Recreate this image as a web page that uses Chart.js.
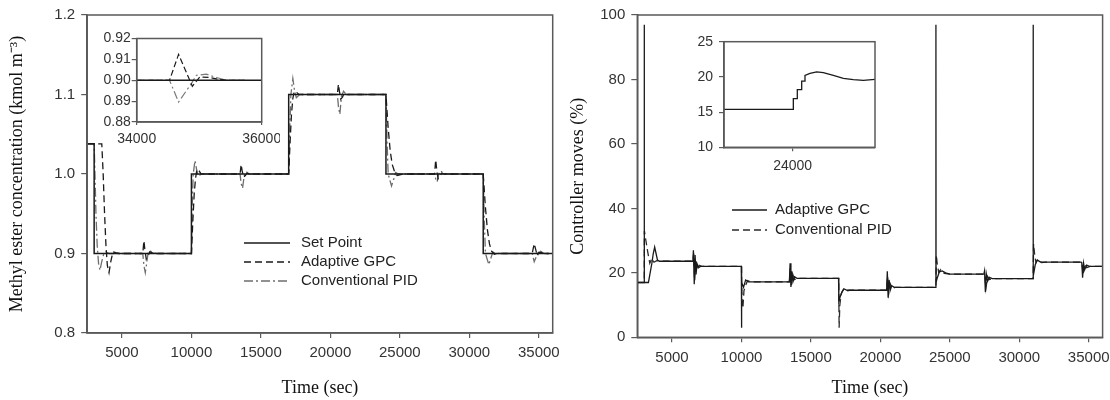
<!DOCTYPE html>
<html><head><meta charset="utf-8">
<script src="https://cdn.jsdelivr.net/npm/chart.js@4.4.1/dist/chart.umd.min.js"></script>
<style>
html,body{margin:0;padding:0;background:#fff;}
#wrap{position:relative;width:1110px;height:400px;overflow:hidden;background:#fff;}
canvas{position:absolute;}
</style></head><body>
<div id="wrap">
<canvas id="leftMain" width="560" height="400" style="left:0;top:0"></canvas>
<canvas id="rightMain" width="555" height="400" style="left:555px;top:0"></canvas>
<canvas id="leftInset" width="200" height="130" style="left:80px;top:25px"></canvas>
<canvas id="rightInset" width="240" height="160" style="left:660px;top:25px"></canvas>
</div>
<script>
// ---------------- DATA ----------------
// Time axis ticks
const timeTicks = [5000, 10000, 15000, 20000, 25000, 30000, 35000];
const concTicks = [0.8, 0.9, 1.0, 1.1, 1.2];
const moveTicks = [0, 20, 40, 60, 80, 100];
const concInsetTimeTicks = [34000, 36000];
const concInsetTicks = [0.88, 0.89, 0.90, 0.91, 0.92];
const moveInsetTimeTicks = [24000];
const moveInsetTicks = [10, 15, 20, 25];

// Left panel: methyl ester concentration
const setPointT = [2500, 3000, 3000, 10000, 10000, 17000, 17000, 24000, 24000, 31000, 31000, 36000];
const setPointC = [1.038, 1.038, 0.9, 0.9, 1.0, 1.0, 1.1, 1.1, 1.0, 1.0, 0.9, 0.9];

const gpcT = [2500, 3550, 3650, 3750, 3850, 3950, 4070, 4200, 4350, 4550, 4800,
  6500, 6580, 6650, 6750, 6880, 7000, 7150, 7400,
  10000, 10100, 10200, 10300, 10400, 10550, 10700, 10900,
  13500, 13580, 13650, 13750, 13880, 14000, 14200,
  17000, 17100, 17200, 17300, 17400, 17550, 17750, 18000,
  20500, 20580, 20650, 20750, 20880, 21000, 21200,
  24000, 24150, 24300, 24450, 24600, 24800, 25000, 25300,
  27500, 27580, 27650, 27750, 27880, 28000, 28200,
  31000, 31150, 31300, 31450, 31600, 31800, 32000, 32300,
  34525, 34670, 34890, 35010, 35170, 35330, 35500, 35730];
const gpcC = [1.038, 1.038, 1.0, 0.95, 0.91, 0.885, 0.876, 0.89, 0.902, 0.901, 0.9,
  0.9, 0.916, 0.905, 0.893, 0.897, 0.902, 0.901, 0.9,
  0.9, 0.94, 0.975, 0.995, 1.006, 1.004, 1.0, 1.0,
  1.0, 1.012, 1.004, 0.996, 0.998, 1.001, 1.0,
  1.0, 1.04, 1.075, 1.095, 1.104, 1.103, 1.1, 1.1,
  1.1, 1.113, 1.104, 1.094, 1.097, 1.102, 1.1,
  1.1, 1.06, 1.03, 1.012, 1.004, 0.998, 0.999, 1.0,
  1.0, 1.018, 1.006, 0.994, 0.997, 1.001, 1.0,
  1.0, 0.96, 0.93, 0.912, 0.903, 0.899, 0.9, 0.9,
  0.9, 0.9124, 0.8971, 0.9016, 0.9013, 0.9003, 0.9, 0.9];

const pidT = [2500, 3000, 3060, 3130, 3220, 3320, 3420, 3550, 3700, 3850, 4100,
  6500, 6580, 6680, 6780, 6900, 7050, 7250, 7500,
  10000, 10060, 10130, 10260, 10380, 10500, 10700,
  13500, 13580, 13680, 13800, 13950, 14150,
  17000, 17080, 17160, 17300, 17420, 17550, 17800,
  20500, 20580, 20680, 20800, 20950, 21150,
  24000, 24080, 24160, 24400, 24550, 24700, 24900,
  27500, 27580, 27680, 27800, 27950, 28150,
  31000, 31080, 31160, 31400, 31550, 31700, 31900,
  34525, 34670, 34875, 34955, 35115, 35276, 35437, 35730];
const pidC = [1.038, 1.038, 1.0, 0.95, 0.91, 0.887, 0.879, 0.89, 0.9, 0.902, 0.9,
  0.9, 0.885, 0.876, 0.888, 0.903, 0.903, 0.901, 0.9,
  0.9, 0.96, 1.0, 1.017, 1.005, 0.997, 1.0,
  1.0, 0.988, 0.982, 0.998, 1.003, 1.0,
  1.0, 1.06, 1.1, 1.12, 1.105, 1.096, 1.1,
  1.1, 1.085, 1.075, 1.098, 1.104, 1.1,
  1.1, 1.04, 1.0, 0.985, 0.993, 1.002, 1.0,
  1.0, 0.994, 0.99, 1.0, 1.004, 1.0,
  1.0, 0.94, 0.9, 0.886, 0.894, 0.902, 0.9,
  0.9, 0.8896, 0.8984, 0.9024, 0.9029, 0.9013, 0.9, 0.9];

// Right panel: controller moves (%)
const gpcMoveT = [2500, 2990, 3000, 3010, 3300, 3550, 3650, 3750, 3850, 3950, 4100,
  6500, 6540, 6600, 6660, 6730, 6800, 6900, 7050,
  9990, 10000, 10020, 10150, 10300, 10500,
  13450, 13500, 13560, 13630, 13710, 13820, 14000,
  16990, 17010, 17100, 17250, 17400, 17600,
  20450, 20500, 20560, 20630, 20710, 20820, 21000,
  23990, 24000, 24010, 24100, 24250, 24450, 24700, 25000,
  27450, 27500, 27560, 27630, 27720, 27850, 28050,
  30990, 31000, 31010, 31150, 31300, 31500, 31800,
  34450, 34500, 34560, 34630, 34710, 34850, 35050, 36000];
const gpcMoveU = [17, 17, 97, 17, 17, 23, 26, 28, 26, 24, 23.6,
  23.6, 27, 16.5, 25.5, 19.5, 22.8, 21.6, 22,
  22, 3, 17, 15.5, 17.8, 17.2,
  17.2, 23, 15.6, 20.5, 17.3, 18.8, 18.3,
  18.3, 11, 12.5, 14.2, 15, 14.6,
  14.6, 20.5, 12.3, 17.8, 14.6, 16, 15.5,
  15.5, 97, 17, 18.5, 20.3, 20.6, 20, 19.6,
  19.6, 20.6, 14.1, 19.6, 17.4, 18.6, 18.2,
  18.2, 97, 19, 22.5, 24, 23.4, 23.3,
  23.3, 23.2, 18.5, 23, 21, 22.4, 22, 22];

const pidMoveT = [2500, 3000, 3010, 3100, 3250, 3400, 3550, 3700, 3900, 4200,
  6500, 6560, 6630, 6720, 6820, 6950, 7150,
  10000, 10040, 10100, 10180, 10300, 10450, 10650,
  13450, 13520, 13590, 13700, 13830, 14050,
  17000, 17030, 17080, 17180, 17350, 17550, 17800,
  20450, 20520, 20600, 20720, 20860, 21050,
  24000, 24030, 24100, 24200, 24350, 24600, 25000,
  27450, 27520, 27600, 27720, 27860, 28100,
  31000, 31030, 31100, 31200, 31350, 31600, 31900,
  34450, 34530, 34600, 34720, 34850, 35100, 36000];
const pidMoveU = [17, 17, 33, 30.5, 26.5, 23, 24.5, 23.3, 23.8, 23.6,
  23.6, 26, 17.5, 24, 21, 22.3, 22,
  22, 10, 9, 14.5, 16.2, 17.6, 17.2,
  17.2, 21.5, 16.2, 19.5, 17.9, 18.3,
  18.3, 3, 10, 13.5, 15, 14.4, 14.6,
  14.6, 19, 13.5, 16.5, 15.1, 15.5,
  15.5, 25.5, 22.5, 20.2, 21, 19.8, 19.6,
  19.6, 19.5, 15.2, 18.9, 17.9, 18.2,
  18.2, 29, 26, 23.2, 24.2, 23.2, 23.3,
  23.3, 22.5, 19.5, 22.8, 21.6, 22, 22];

// Right inset: controller move around 24000 s
const insetMoveT = [23000, 24010, 24010, 24068, 24068, 24132, 24132, 24180, 24180, 24253, 24350, 24447, 24593, 24739, 24884, 25030, 25200];
const insetMoveU = [15.4, 15.4, 16.9, 16.9, 18.2, 18.2, 19.4, 19.4, 20.2, 20.5, 20.7, 20.6, 20.2, 19.8, 19.6, 19.5, 19.65];

// ---------------- RENDERING ----------------
Chart.defaults.font.family = '"Liberation Sans", Arial, sans-serif';
Chart.defaults.color = '#333';
const AXIS = '#5a5a5a';
const SERIF = '"Liberation Serif", "Times New Roman", serif';

const pts = (t, v) => t.map((x, i) => ({x, y: v[i]}));

const framePlugin = {
  id: 'frame',
  afterDatasetsDraw(chart) {
    const a = chart.chartArea, ctx = chart.ctx;
    ctx.save();
    ctx.strokeStyle = AXIS; ctx.lineWidth = 1.5;
    ctx.strokeRect(a.left, a.top, a.right - a.left, a.bottom - a.top);
    ctx.restore();
  }
};
const whitePlugin = {
  id: 'whiteArea',
  beforeDraw(chart) {
    const a = chart.chartArea, ctx = chart.ctx;
    ctx.save(); ctx.fillStyle = '#fff';
    ctx.fillRect(a.left, a.top, a.right - a.left, a.bottom - a.top);
    ctx.restore();
  }
};
const legendPlugin = {
  id: 'boxLegend',
  afterDraw(chart, args, opts) {
    if (!opts || !opts.show) return;
    const ctx = chart.ctx;
    ctx.save();
    chart.data.datasets.forEach((ds, i) => {
      const y = opts.y + i * opts.dy;
      ctx.beginPath();
      ctx.setLineDash(ds.borderDash || []);
      ctx.strokeStyle = ds.borderColor; ctx.lineWidth = ds.borderWidth;
      ctx.moveTo(opts.x0, y); ctx.lineTo(opts.x1, y); ctx.stroke();
      ctx.setLineDash([]);
      ctx.fillStyle = '#222';
      ctx.font = '15px "Liberation Sans", Arial, sans-serif';
      ctx.textBaseline = 'middle'; ctx.textAlign = 'left';
      ctx.fillText(ds.label, opts.tx, y);
    });
    ctx.restore();
  }
};

function makeScale(o) {
  return {
    type: 'linear', min: o.min, max: o.max,
    afterBuildTicks: s => { s.ticks = o.ticks.map(v => ({value: v})); },
    afterFit: s => {
      if (o.width !== undefined) s.width = o.width;
      if (o.height !== undefined) s.height = o.height;
      s.paddingLeft = 0; s.paddingRight = 0; s.paddingTop = 0; s.paddingBottom = 0;
    },
    ticks: { autoSkip: false, maxRotation: 0, padding: o.tickPad, color: '#333',
             font: {size: o.fontSize}, callback: o.fmt },
    grid: { display: true, drawOnChartArea: false, drawTicks: true, tickLength: o.tickLen,
            color: AXIS, lineWidth: 1.2 },
    border: { display: true, color: AXIS, width: 1.5 },
    title: o.title ? { display: true, text: o.title, color: '#111',
            font: {family: SERIF, size: 18}, padding: o.titlePad } : { display: false }
  };
}

function makeChart(id, datasets, xs, ys, pad, extraPlugins, legendOpts) {
  return new Chart(document.getElementById(id), {
    type: 'line',
    data: { datasets },
    options: {
      responsive: false, animation: false, devicePixelRatio: 1,
      parsing: true,
      layout: { padding: pad },
      elements: { point: { radius: 0 }, line: { tension: 0 } },
      plugins: { legend: { display: false }, tooltip: { enabled: false },
                 boxLegend: legendOpts || { show: false } },
      scales: { x: makeScale(xs), y: makeScale(ys) }
    },
    plugins: extraPlugins
  });
}

const fmtInt = v => String(v);

// Left main
makeChart('leftMain', [
  { label: 'Set Point', data: pts(setPointT, setPointC), borderColor: '#1a1a1a', borderWidth: 1.5, fill: false },
  { label: 'Adaptive GPC', data: pts(gpcT, gpcC), borderColor: '#1a1a1a', borderWidth: 1.3, borderDash: [7, 4], fill: false },
  { label: 'Conventional PID', data: pts(pidT, pidC), borderColor: '#6e6e6e', borderWidth: 1.3, borderDash: [9, 3, 2, 3], fill: false }
],
{ min: 2500, max: 36000, ticks: timeTicks, fmt: fmtInt, fontSize: 15, tickLen: 5, tickPad: 6, height: 67,
  title: 'Time (sec)', titlePad: {top: 0, bottom: 1} },
{ min: 0.8, max: 1.2, ticks: concTicks, fmt: v => v.toFixed(1), fontSize: 15, tickLen: 6, tickPad: 6, width: 87.2,
  title: 'Methyl ester concentration (kmol m\u207B\u00B3)', titlePad: {top: 6, bottom: 0} },
{ top: 15, right: 7.3, left: 0, bottom: 0 },
[framePlugin, legendPlugin],
{ show: true, x0: 244, x1: 290, tx: 301, y: 243, dy: 19 });

// Right main
makeChart('rightMain', [
  { label: 'Adaptive GPC', data: pts(gpcMoveT, gpcMoveU), borderColor: '#1a1a1a', borderWidth: 1.3, fill: false },
  { label: 'Conventional PID', data: pts(pidMoveT, pidMoveU), borderColor: '#2a2a2a', borderWidth: 1.3, borderDash: [7, 4], fill: false }
],
{ min: 2500, max: 36000, ticks: timeTicks, fmt: fmtInt, fontSize: 15, tickLen: 5, tickPad: 7, height: 62.7,
  title: 'Time (sec)', titlePad: {top: 0, bottom: 1} },
{ min: 0, max: 100, ticks: moveTicks, fmt: fmtInt, fontSize: 15, tickLen: 6, tickPad: 6, width: 82.3,
  title: 'Controller moves (%)', titlePad: {top: 12, bottom: 0} },
{ top: 15, right: 7.4, left: 0, bottom: 0 },
[framePlugin, legendPlugin],
{ show: true, x0: 177, x1: 212, tx: 220, y: 210, dy: 20 });

// Left inset
makeChart('leftInset', [
  { label: 'Set Point', data: pts(setPointT, setPointC), borderColor: '#1a1a1a', borderWidth: 1.3, fill: false },
  { label: 'Adaptive GPC', data: pts(gpcT, gpcC), borderColor: '#1a1a1a', borderWidth: 1.2, borderDash: [6, 3], fill: false },
  { label: 'Conventional PID', data: pts(pidT, pidC), borderColor: '#7a7a7a', borderWidth: 1.2, borderDash: [8, 3, 2, 3], fill: false }
],
{ min: 34000, max: 36000, ticks: concInsetTimeTicks, fmt: fmtInt, fontSize: 14, tickLen: 3, tickPad: 6, height: 33 },
{ min: 0.88, max: 0.92, ticks: concInsetTicks, fmt: v => v.toFixed(2), fontSize: 14, tickLen: 5, tickPad: 1, width: 56.7 },
{ top: 13.5, right: 18.3, left: 0, bottom: 0 },
[whitePlugin, framePlugin]);

// Right inset
makeChart('rightInset', [
  { label: 'Adaptive GPC', data: pts(insetMoveT, insetMoveU), borderColor: '#1a1a1a', borderWidth: 1.3, fill: false }
],
{ min: 23000, max: 25200, ticks: moveInsetTimeTicks, fmt: fmtInt, fontSize: 14, tickLen: 4, tickPad: 6, height: 37.7 },
{ min: 10, max: 25, ticks: moveInsetTicks, fmt: fmtInt, fontSize: 14, tickLen: 5, tickPad: 6, width: 64 },
{ top: 16.7, right: 25, left: 0, bottom: 0 },
[whitePlugin, framePlugin]);
</script>
</body></html>
